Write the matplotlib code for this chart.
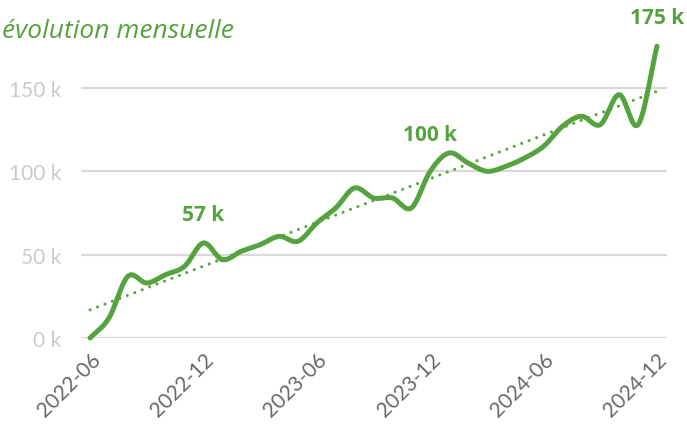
import matplotlib.pyplot as plt
import numpy as np

# monthly values, in thousands
months = [
    "2022-06", "2022-07", "2022-08", "2022-09", "2022-10", "2022-11",
    "2022-12", "2023-01", "2023-02", "2023-03", "2023-04", "2023-05",
    "2023-06", "2023-07", "2023-08", "2023-09", "2023-10", "2023-11",
    "2023-12", "2024-01", "2024-02", "2024-03", "2024-04", "2024-05",
    "2024-06", "2024-07", "2024-08", "2024-09", "2024-10", "2024-11",
    "2024-12",
]
values = [
    0, 12, 37, 33, 38, 43,
    57, 47, 52, 56, 61, 58,
    69, 78, 90, 84, 84, 78,
    100, 111, 105, 100, 103, 108,
    115, 127, 133, 128, 146, 128,
    175,
]
tick_months = ["2022-06", "2022-12", "2023-06", "2023-12", "2024-06", "2024-12"]
highlights = {"2022-12": "57 k", "2023-12": "100 k", "2024-12": "175 k"}
highlight_offsets = {"2022-12": 13, "2023-12": 19, "2024-12": 13}

GREEN = "#55a33f"


def catmull_rom(x, y, steps=20):
    # smooth curve through every point, like a spreadsheet "smoothed line"
    x = np.asarray(x, dtype=float)
    y = np.asarray(y, dtype=float)
    px = np.concatenate([[2 * x[0] - x[1]], x, [2 * x[-1] - x[-2]]])
    py = np.concatenate([[2 * y[0] - y[1]], y, [2 * y[-1] - y[-2]]])
    xs, ys = [], []
    t = np.linspace(0, 1, steps, endpoint=False)
    for i in range(1, len(px) - 2):
        for arr, out in ((px, xs), (py, ys)):
            p0, p1, p2, p3 = arr[i - 1], arr[i], arr[i + 1], arr[i + 2]
            out.extend(0.5 * (2 * p1 + (-p0 + p2) * t
                              + (2 * p0 - 5 * p1 + 4 * p2 - p3) * t ** 2
                              + (-p0 + 3 * p1 - 3 * p2 + p3) * t ** 3))
    xs.append(x[-1])
    ys.append(y[-1])
    return np.array(xs), np.array(ys)


x = np.arange(len(months))
y = np.array(values, dtype=float)

fig = plt.figure(figsize=(6.87, 4.31), dpi=100)
ax = fig.add_axes([81 / 687, 1 - 339 / 431, 586 / 687, (339 - 30.6) / 431])

for v in [0, 50, 100, 150]:
    ax.axhline(v, color="#d9d9d9", linewidth=1.6, zorder=0)

slope, intercept = np.polyfit(x, y, 1)
ax.plot(x, slope * x + intercept, linestyle=(0, (0.01, 2.6)), color=GREEN,
        linewidth=2.2, dash_capstyle="round", zorder=2)

sx, sy = catmull_rom(x, y)
ax.plot(sx, sy, color=GREEN, linewidth=3.6, solid_capstyle="round",
        solid_joinstyle="round", zorder=3, clip_on=False)

for m, label in highlights.items():
    i = months.index(m)
    ax.annotate(label, (x[i], y[i]), xytext=(0, highlight_offsets[m]),
                textcoords="offset points", ha="center", va="bottom",
                color=GREEN, fontsize=15, fontweight="bold", family="Open Sans",
                annotation_clip=False)

ax.set_xlim(-0.48, 30.53)
ax.set_ylim(0, 185)
ax.set_yticks([0, 50, 100, 150])
ax.set_yticklabels(["0 k", "50 k", "100 k", "150 k"], color="#cbcbcb",
                   fontsize=15, family="Lato")
ax.set_xticks([months.index(m) for m in tick_months])
ax.set_xticklabels(tick_months, rotation=45, ha="right", rotation_mode="anchor",
                   color="#686868", fontsize=15, family="Lato")
ax.tick_params(length=0)
ax.tick_params(axis="y", pad=14)
ax.tick_params(axis="x", pad=8)
for s in ax.spines.values():
    s.set_visible(False)

fig.text(0.003, 1 - 38 / 431, "évolution mensuelle", color=GREEN,
         fontsize=19, style="italic", family="Open Sans", va="baseline")

fig.savefig("out.png", dpi=100)
